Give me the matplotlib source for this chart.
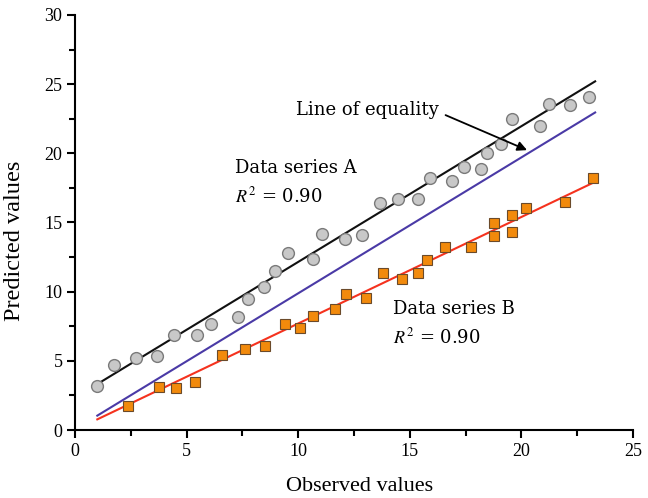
import numpy as np
import matplotlib
matplotlib.use("Agg")
import matplotlib.pyplot as plt
from matplotlib.ticker import MultipleLocator

# series A (grey circles)
a_x = [1.0, 1.75, 2.73, 3.69, 4.44, 5.45, 6.08, 7.32, 7.77, 8.47, 8.96, 9.56,
       10.65, 11.05, 12.1, 12.84, 13.66, 14.46, 15.35, 15.9, 16.87, 17.43,
       18.19, 18.44, 19.09, 19.59, 20.82, 21.25, 22.19, 23.04]
a_y = [3.2, 4.7, 5.2, 5.35, 6.9, 6.84, 7.63, 8.19, 9.44, 10.36, 11.5, 12.77,
       12.33, 14.2, 13.8, 14.09, 16.38, 16.69, 16.67, 18.18, 17.99, 19.03,
       18.86, 19.99, 20.64, 22.5, 21.97, 23.58, 23.48, 24.08]

# series B (orange squares)
b_x = [2.37, 3.75, 4.52, 5.39, 6.57, 7.62, 8.51, 9.39, 10.08, 10.68, 11.66,
       12.14, 13.02, 13.78, 14.63, 15.35, 15.75, 16.58, 17.73, 18.79, 18.79,
       19.56, 19.59, 20.19, 21.97, 23.22]
b_y = [1.73, 3.08, 3.06, 3.5, 5.44, 5.88, 6.07, 7.66, 7.4, 8.24, 8.72,
       9.8, 9.56, 11.32, 10.89, 11.37, 12.28, 13.25, 13.25, 14.0, 14.93,
       14.33, 15.53, 16.02, 16.5, 18.23]

# fitted lines and line of equality (end points)
fit_a_x = [1.0, 23.3]
fit_a_y = [3.32, 25.2]
fit_b_x = [1.0, 23.3]
fit_b_y = [0.77, 17.94]
eq_x = [1.0, 23.3]
eq_y = [1.04, 22.95]

serif = "Liberation Serif"
label_font = "DejaVu Serif"
plt.rcParams["mathtext.fontset"] = "stix"

fig = plt.figure(figsize=(6.48, 4.98), dpi=100)
ax = fig.add_axes([0.1157, 0.1365, 0.8613, 0.8335])

ax.plot(eq_x, eq_y, color="#4a3aa6", lw=1.5, zorder=2)
ax.plot(fit_a_x, fit_a_y, color="#111111", lw=1.5, zorder=2)
ax.plot(fit_b_x, fit_b_y, color="#f5321e", lw=1.5, zorder=2)
ax.plot(a_x, a_y, "o", ms=8.5, mfc="#c8c8c8", mec="#7a7a7a", mew=1.0, zorder=3)
ax.plot(b_x, b_y, "s", ms=6.5, mfc="#f28a0c", mec="#6b4a2a", mew=0.8, zorder=3)

# line of equality label + arrow
ax.text(16.3, 23.1, "Line of equality", ha="right", va="center",
        fontsize=13, family=label_font)
ax.annotate("", xy=(20.25, 20.23), xytext=(16.6, 22.76),
            arrowprops=dict(arrowstyle="-|>", color="black", lw=1.3,
                            mutation_scale=14, shrinkA=0, shrinkB=0))

ax.text(7.17, 18.93, "Data series A", fontsize=13, family=label_font,
        va="center")
ax.text(7.17, 16.9, r"$R^2$ = 0.90", fontsize=13, family=label_font,
        va="center")
ax.text(14.25, 8.74, "Data series B", fontsize=13, family=label_font,
        va="center")
ax.text(14.25, 6.72, r"$R^2$ = 0.90", fontsize=13, family=label_font,
        va="center")

ax.set_xlim(0, 25)
ax.set_ylim(0, 30)
ax.xaxis.set_major_locator(MultipleLocator(5))
ax.xaxis.set_minor_locator(MultipleLocator(2.5))
ax.yaxis.set_major_locator(MultipleLocator(5))
ax.yaxis.set_minor_locator(MultipleLocator(2.5))
ax.spines["top"].set_visible(False)
ax.spines["right"].set_visible(False)
for s in ["left", "bottom"]:
    ax.spines[s].set_linewidth(1.5)
ax.tick_params(which="major", direction="out", length=6, width=1.5,
               labelsize=13, pad=3)
ax.tick_params(which="minor", direction="out", length=4, width=1.5)
for lab in ax.get_xticklabels() + ax.get_yticklabels():
    lab.set_family(serif)

ax.set_xlabel("Observed values", family=serif, fontsize=16)
ax.set_ylabel("Predicted values", family=serif, fontsize=17.5)
ax.xaxis.set_label_coords(0.51, -0.113)
ax.yaxis.set_label_coords(-0.089, 0.457)

fig.savefig("out.png", dpi=100)
